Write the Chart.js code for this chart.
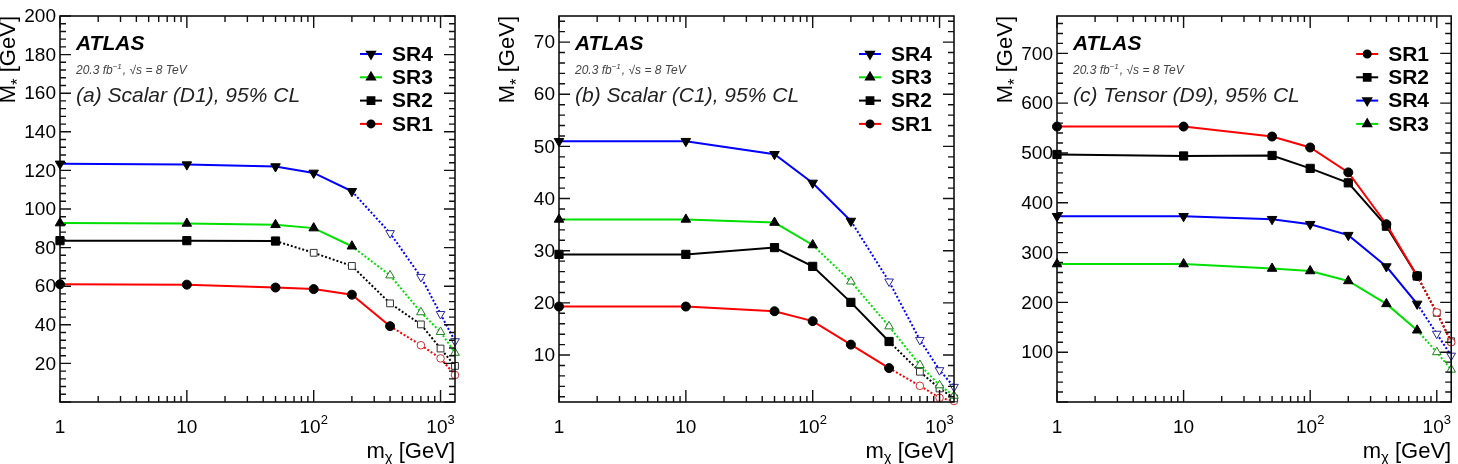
<!DOCTYPE html>
<html>
<head>
<meta charset="utf-8">
<script src="https://cdn.jsdelivr.net/npm/chart.js@4.4.1/dist/chart.umd.min.js"></script>
<style>
  html, body { margin: 0; padding: 0; background: #fff; }
  #wrap { position: relative; width: 1458px; height: 464px; }
  .panel { position: absolute; top: 0; width: 486px; height: 464px; }
</style>
</head>
<body>
<div id="wrap">
  <div class="panel" style="left:0"><canvas id="panelA"></canvas></div>
  <div class="panel" style="left:486px"><canvas id="panelB"></canvas></div>
  <div class="panel" style="left:972px"><canvas id="panelC"></canvas></div>
</div>
<script>
// --- Data ---
const massPoints = [1, 10, 50, 100, 200, 400, 700, 1000, 1300];

// (a) Scalar (D1)
const d1SR4 = [123.4, 123, 122, 118.7, 109.2, 87.5, 64.8, 45.6, 31.5];
const d1SR3 = [92.7, 92.5, 91.8, 90.1, 80.7, 65.6, 46.5, 36.3, 25.5];
const d1SR2 = [83.6, 83.6, 83.4, 77.3, 70.5, 51.1, 40.2, 27.7, 18.7];
const d1SR1 = [61, 60.8, 59.3, 58.5, 55.6, 39.3, 29.4, 22.6, 14];
const d1Order = ['SR4', 'SR3', 'SR2', 'SR1'];
const d1LastFilled = [4, 4, 2, 5];   // index of last filled marker, same order

// (b) Scalar (C1)
const d2SR4 = [51, 51, 48.5, 43, 35.7, 24.1, 12.9, 7.1, 3.9];
const d2SR3 = [36, 36, 35.4, 31.1, 24.1, 15.5, 8.1, 4.2, 2.2];
const d2SR2 = [29.3, 29.3, 30.6, 27, 20.1, 12.6, 6.8, 3.6, 1.7];
const d2SR1 = [19.3, 19.3, 18.4, 16.5, 12, 7.5, 4.1, 1.8, 1.2];
const d2Order = ['SR4', 'SR3', 'SR2', 'SR1'];
const d2LastFilled = [4, 3, 5, 5];

// (c) Tensor (D9)
const d3SR1 = [553, 553, 533, 511, 461, 357, 253, 180, 120];
const d3SR2 = [497, 494, 495, 469, 440, 353, 253, 179, 122];
const d3SR4 = [373, 373, 367, 357, 335, 272, 197, 137, 93];
const d3SR3 = [277, 277, 268, 263, 243, 197, 144, 100, 65];
const d3Order = ['SR1', 'SR2', 'SR4', 'SR3'];
const d3LastFilled = [6, 6, 6, 6];

// tick labels
const xTickValues = [1, 10, 100, 1000];
const xTickBase = ['1', '10', '10', '10'];
const xTickExp = ['', '', '2', '3'];
const d1YTicks = [20, 40, 60, 80, 100, 120, 140, 160, 180, 200];
const d2YTicks = [10, 20, 30, 40, 50, 60, 70];
const d3YTicks = [100, 200, 300, 400, 500, 600, 700];

// --- Styles ---
const FONT = '"Liberation Sans", Arial, Helvetica, sans-serif';
const regionStyle = {
    SR1: { color: '#ff0000', open: '#d03030', marker: 'circle', rotation: 0, rf: 4.5, ro: 3.8 },
    SR2: { color: '#000000', open: '#333333', marker: 'rect', rotation: 0, rf: 5.8, ro: 4.8 },
    SR3: { color: '#00e000', open: '#1f7f1f', marker: 'triangle', rotation: 0, rf: 5.5, ro: 5 },
    SR4: { color: '#0000ff', open: '#2a2a9a', marker: 'triangle', rotation: 180, rf: 5.5, ro: 5 }
};

function buildDatasets(order, values, lastFilled) {
    return order.map((name, i) => {
        const st = regionStyle[name];
        const last = lastFilled[i];
        return {
            label: name,
            data: massPoints.map((m, k) => ({ x: m, y: values[name][k] })),
            borderColor: st.color,
            borderWidth: 2,
            tension: 0,
            clip: false,
            pointStyle: st.marker,
            pointRotation: st.rotation,
            pointRadius: ctx => ctx.dataIndex <= last ? st.rf : st.ro,
            pointBackgroundColor: ctx => ctx.dataIndex <= last ? '#000' : '#fff',
            pointBorderColor: ctx => ctx.dataIndex <= last ? '#000' : st.open,
            pointBorderWidth: 1,
            segment: {
                borderDash: ctx => ctx.p0DataIndex >= last ? [2, 2] : undefined
            }
        };
    });
}

// --- Frame, ticks, texts and legend in ROOT / ATLAS style ---
const atlasStyle = {
    id: 'atlasStyle',
    afterDatasetsDraw(chart, args, opts) {
        const { ctx, chartArea: a, scales: { x, y } } = chart;
        ctx.save();
        ctx.setLineDash([]);

        // frame
        ctx.strokeStyle = '#000';
        ctx.lineWidth = 1.5;
        ctx.strokeRect(a.left, a.top, a.right - a.left, a.bottom - a.top);

        // x ticks (log), inside on bottom and top
        ctx.lineWidth = 1.4;
        ctx.strokeStyle = '#111';
        ctx.beginPath();
        for (let d = 1; d <= 1000; d *= 10) {
            for (let k = 1; k <= 9; k++) {
                const v = k * d;
                if (v > x.max) break;
                const px = x.getPixelForValue(v);
                const len = k === 1 ? 12 : 6;
                ctx.moveTo(px, a.bottom); ctx.lineTo(px, a.bottom - len);
                ctx.moveTo(px, a.top); ctx.lineTo(px, a.top + len);
            }
        }
        // y ticks, inside on left and right
        const start = Math.ceil(y.min / opts.yMinor) * opts.yMinor;
        for (let v = start; v <= y.max + 1e-9; v += opts.yMinor) {
            const py = y.getPixelForValue(v);
            const major = Math.abs(v / opts.yMajor - Math.round(v / opts.yMajor)) < 1e-6;
            const len = major ? 11 : 6;
            ctx.moveTo(a.left, py); ctx.lineTo(a.left + len, py);
            ctx.moveTo(a.right, py); ctx.lineTo(a.right - len, py);
        }
        ctx.stroke();

        // y tick labels
        ctx.fillStyle = '#000';
        ctx.font = '19px ' + FONT;
        ctx.textAlign = 'right';
        ctx.textBaseline = 'middle';
        opts.yTicks.forEach(v => {
            ctx.fillText(String(v), a.left - 4, y.getPixelForValue(v) + 1);
        });

        // x tick labels with exponents
        ctx.textBaseline = 'alphabetic';
        ctx.textAlign = 'left';
        xTickValues.forEach((v, i) => {
            const px = x.getPixelForValue(v);
            ctx.font = '19px ' + FONT;
            const wb = ctx.measureText(xTickBase[i]).width;
            ctx.font = '13px ' + FONT;
            const we = xTickExp[i] ? ctx.measureText(xTickExp[i]).width : 0;
            const x0 = px - (wb + we) / 2;
            ctx.font = '19px ' + FONT;
            ctx.fillText(xTickBase[i], x0, a.bottom + 31);
            if (xTickExp[i]) {
                ctx.font = '13px ' + FONT;
                ctx.fillText(xTickExp[i], x0 + wb, a.bottom + 22);
            }
        });

        // x axis title: m_chi [GeV], right aligned
        ctx.font = '22px ' + FONT;
        const tail = ' [GeV]';
        const wTail = ctx.measureText(tail).width;
        const wM = ctx.measureText('m').width;
        ctx.font = '15px ' + FONT;
        const wChi = ctx.measureText('χ').width;
        let tx = a.right - wTail - wChi - wM;
        const ty = a.bottom + 56;
        ctx.font = '22px ' + FONT;
        ctx.fillText('m', tx, ty);
        ctx.font = '15px ' + FONT;
        ctx.fillText('χ', tx + wM, ty + 4);
        ctx.font = '22px ' + FONT;
        ctx.fillText(tail, tx + wM + wChi, ty);

        // y axis title: M_* [GeV], rotated, ending at top
        ctx.save();
        ctx.translate(a.left - 45, a.top);
        ctx.rotate(-Math.PI / 2);
        ctx.font = '22px ' + FONT;
        const wTailY = ctx.measureText(tail).width;
        const wMY = ctx.measureText('M').width;
        ctx.font = '17px ' + FONT;
        const wStar = ctx.measureText('*').width;
        let sx = -(wTailY + wStar + wMY);
        ctx.font = '22px ' + FONT;
        ctx.fillText('M', sx, 0);
        ctx.font = '17px ' + FONT;
        ctx.fillText('*', sx + wMY, 8);
        ctx.font = '22px ' + FONT;
        ctx.fillText(tail, sx + wMY + wStar, 0);
        ctx.restore();

        // ATLAS label block
        const lx = a.left + 16;
        ctx.font = 'italic bold 21px ' + FONT;
        ctx.fillStyle = '#000';
        ctx.fillText('ATLAS', lx, 50);
        ctx.fillStyle = '#444';
        ctx.font = 'italic 12px ' + FONT;
        const p1 = '20.3 fb';
        ctx.fillText(p1, lx, 74);
        const w1 = ctx.measureText(p1).width;
        ctx.font = 'italic 8px ' + FONT;
        ctx.fillText('−1', lx + w1, 69);
        const w2 = ctx.measureText('−1').width;
        ctx.font = 'italic 12px ' + FONT;
        ctx.fillText(', √s = 8 TeV', lx + w1 + w2 + 1, 74);
        ctx.fillStyle = '#222';
        ctx.font = 'italic 21px ' + FONT;
        ctx.fillText(opts.title, lx, 102);

        // legend
        chart.data.datasets.forEach((ds, i) => {
            const st = regionStyle[ds.label];
            const ly = 54 + i * 23.3;
            ctx.strokeStyle = st.color;
            ctx.lineWidth = 2;
            ctx.beginPath();
            ctx.moveTo(a.right - 95, ly); ctx.lineTo(a.right - 73, ly);
            ctx.stroke();
            ctx.fillStyle = '#000';
            ctx.strokeStyle = '#000';
            Chart.helpers.drawPoint(ctx, {
                pointStyle: st.marker, rotation: st.rotation, radius: st.rf - 1, borderWidth: 1
            }, a.right - 84, ly);
            ctx.fillStyle = '#000';
            ctx.font = 'bold 21px ' + FONT;
            ctx.textBaseline = 'middle';
            ctx.fillText(ds.label, a.right - 63, ly + 1);
            ctx.textBaseline = 'alphabetic';
        });

        ctx.restore();
    }
};

function makePanel(canvasId, datasets, yMin, yMax, yMajor, yMinor, yTicks, title, pad) {
    new Chart(document.getElementById(canvasId), {
        type: 'line',
        data: { datasets },
        options: {
            responsive: true,
            maintainAspectRatio: false,
            animation: false,
            layout: { padding: pad },
            scales: {
                x: { type: 'logarithmic', min: 1, max: 1300, display: false },
                y: { type: 'linear', min: yMin, max: yMax, display: false }
            },
            plugins: {
                legend: { display: false },
                tooltip: { enabled: false },
                atlasStyle: { yMajor, yMinor, yTicks, title }
            }
        },
        plugins: [atlasStyle]
    });
}

makePanel('panelA',
    buildDatasets(d1Order, { SR1: d1SR1, SR2: d1SR2, SR3: d1SR3, SR4: d1SR4 }, d1LastFilled),
    0, 200, 20, 4, d1YTicks, '(a) Scalar (D1), 95% CL',
    { left: 60, right: 31, top: 16, bottom: 62 });

makePanel('panelB',
    buildDatasets(d2Order, { SR1: d2SR1, SR2: d2SR2, SR3: d2SR3, SR4: d2SR4 }, d2LastFilled),
    1, 75, 10, 2, d2YTicks, '(b) Scalar (C1), 95% CL',
    { left: 73, right: 18, top: 16, bottom: 62 });

makePanel('panelC',
    buildDatasets(d3Order, { SR1: d3SR1, SR2: d3SR2, SR3: d3SR3, SR4: d3SR4 }, d3LastFilled),
    0, 775, 100, 20, d3YTicks, '(c) Tensor (D9), 95% CL',
    { left: 85, right: 6, top: 16, bottom: 62 });
</script>
</body>
</html>
